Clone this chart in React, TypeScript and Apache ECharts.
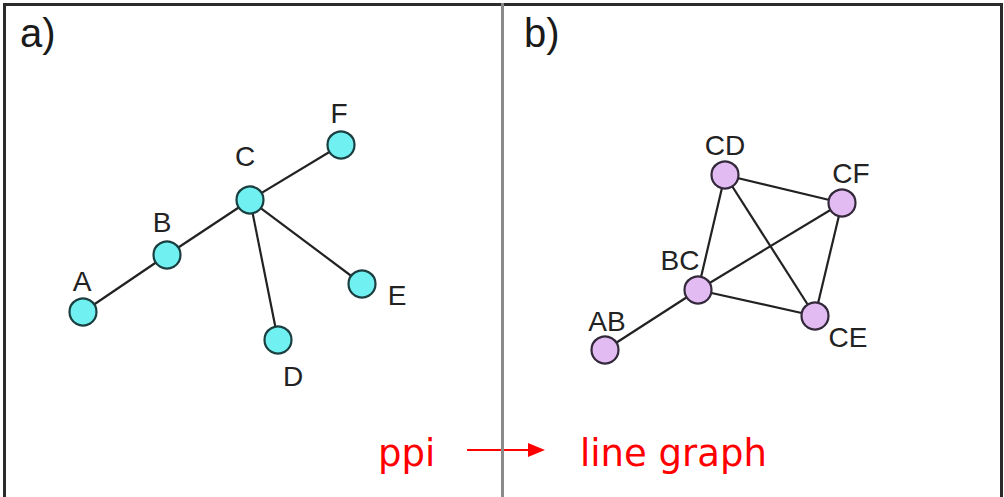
import React, { useEffect, useRef } from "react";
import * as echarts from "echarts";

// Panel a) : protein-protein interaction tree
const ppiNodes = ["A", "B", "C", "D", "E", "F"];
const ppiX = [83, 167, 250, 278, 362, 341];
const ppiY = [312, 255, 200, 340, 284, 145];
const ppiEdges: [string, string][] = [
  ["A", "B"],
  ["B", "C"],
  ["C", "F"],
  ["C", "E"],
  ["C", "D"],
];

// Panel b) : its line graph
const lgNodes = ["AB", "BC", "CD", "CE", "CF"];
const lgX = [605, 698, 725, 815, 842];
const lgY = [350, 290, 175, 316, 203];
const lgEdges: [string, string][] = [
  ["AB", "BC"],
  ["BC", "CD"],
  ["BC", "CF"],
  ["BC", "CE"],
  ["CD", "CF"],
  ["CD", "CE"],
  ["CF", "CE"],
];

const panelTitles = ["a)", "b)"];
const captionLeft = "ppi";
const captionRight = "line graph";

// label placement relative to node centre
const labelOffsets: Record<string, [number, number]> = {
  A: [-1, -31],
  B: [-5, -33],
  C: [-5, -44],
  D: [15, 36],
  E: [35, 11],
  F: [-2, -32],
  AB: [2, -29],
  BC: [-18, -30],
  CD: [0, -30],
  CE: [33, 21],
  CF: [9, -30],
};

const W = 1004;
const H = 497;

export default function App() {
  const ref = useRef<HTMLDivElement>(null);

  useEffect(() => {
    document.body.style.margin = "0";
    if (!ref.current) return;
    const chart = echarts.init(ref.current, undefined, { renderer: "svg" });

    const mkData = (names: string[], xs: number[], ys: number[]) =>
      names.map((n, i) => ({
        name: n,
        value: [xs[i], ys[i]],
        label: { offset: labelOffsets[n] },
      }));
    const mkLinks = (edges: [string, string][]) =>
      edges.map(([s, t]) => ({ source: s, target: t }));

    const labelStyle = {
      show: true,
      position: "inside",
      formatter: "{b}",
      fontFamily: "Liberation Sans, Arial, sans-serif",
      fontSize: 28,
      color: "#222",
    };

    chart.setOption({
      animation: false,
      backgroundColor: "#ffffff",
      grid: { left: 0, right: 0, top: 0, bottom: 0 },
      xAxis: { type: "value", min: 0, max: W, show: false },
      yAxis: { type: "value", min: 0, max: H, inverse: true, show: false },
      series: [
        {
          type: "graph",
          coordinateSystem: "cartesian2d",
          layout: "none",
          symbol: "circle",
          symbolSize: 27,
          data: mkData(ppiNodes, ppiX, ppiY),
          links: mkLinks(ppiEdges),
          itemStyle: { color: "#70F0F0", borderColor: "#1B3F40", borderWidth: 2.2 },
          lineStyle: { color: "#222", width: 2.2, opacity: 1, curveness: 0 },
          label: labelStyle,
          emphasis: { disabled: true },
          z: 3,
        },
        {
          type: "graph",
          coordinateSystem: "cartesian2d",
          layout: "none",
          symbol: "circle",
          symbolSize: 27,
          data: mkData(lgNodes, lgX, lgY),
          links: mkLinks(lgEdges),
          itemStyle: { color: "#E2BBF2", borderColor: "#33293A", borderWidth: 2.2 },
          lineStyle: { color: "#222", width: 2.2, opacity: 1, curveness: 0 },
          label: labelStyle,
          emphasis: { disabled: true },
          z: 3,
        },
      ],
      graphic: [
        // frame
        { type: "rect", shape: { x: 3, y: 3, width: 3, height: H }, style: { fill: "#2b2b2b" }, z: 10 },
        { type: "rect", shape: { x: 3, y: 3, width: 1000, height: 3 }, style: { fill: "#2b2b2b" }, z: 10 },
        { type: "rect", shape: { x: 1000, y: 3, width: 3, height: H }, style: { fill: "#2b2b2b" }, z: 10 },
        // arrow
        {
          type: "line",
          shape: { x1: 467, y1: 450, x2: 532, y2: 450 },
          style: { stroke: "#ff0000", lineWidth: 2 },
          z: 8,
        },
        {
          type: "polygon",
          shape: { points: [[528, 443], [545, 450], [528, 457]] },
          style: { fill: "#ff0000" },
          z: 8,
        },
        // divider
        { type: "rect", shape: { x: 501, y: 3, width: 3, height: H }, style: { fill: "#8a8a8a" }, z: 10 },
        // panel titles
        {
          type: "text",
          x: 20,
          y: 33,
          style: {
            text: panelTitles[0],
            font: "40px 'Liberation Sans', Arial, sans-serif",
            fill: "#1a1a1a",
            verticalAlign: "middle",
          },
          z: 10,
        },
        {
          type: "text",
          x: 524,
          y: 33,
          style: {
            text: panelTitles[1],
            font: "40px 'Liberation Sans', Arial, sans-serif",
            fill: "#1a1a1a",
            verticalAlign: "middle",
          },
          z: 10,
        },
        // captions
        {
          type: "text",
          x: 378,
          y: 453,
          style: {
            text: captionLeft,
            font: "37px 'DejaVu Sans', sans-serif",
            fill: "#ff0000",
            verticalAlign: "middle",
          },
          z: 10,
        },
        {
          type: "text",
          x: 580,
          y: 453,
          style: {
            text: captionRight,
            font: "37px 'DejaVu Sans', sans-serif",
            fill: "#ff0000",
            verticalAlign: "middle",
          },
          z: 10,
        },
      ],
    });

    return () => chart.dispose();
  }, []);

  return <div ref={ref} style={{ width: W, height: H }} />;
}
